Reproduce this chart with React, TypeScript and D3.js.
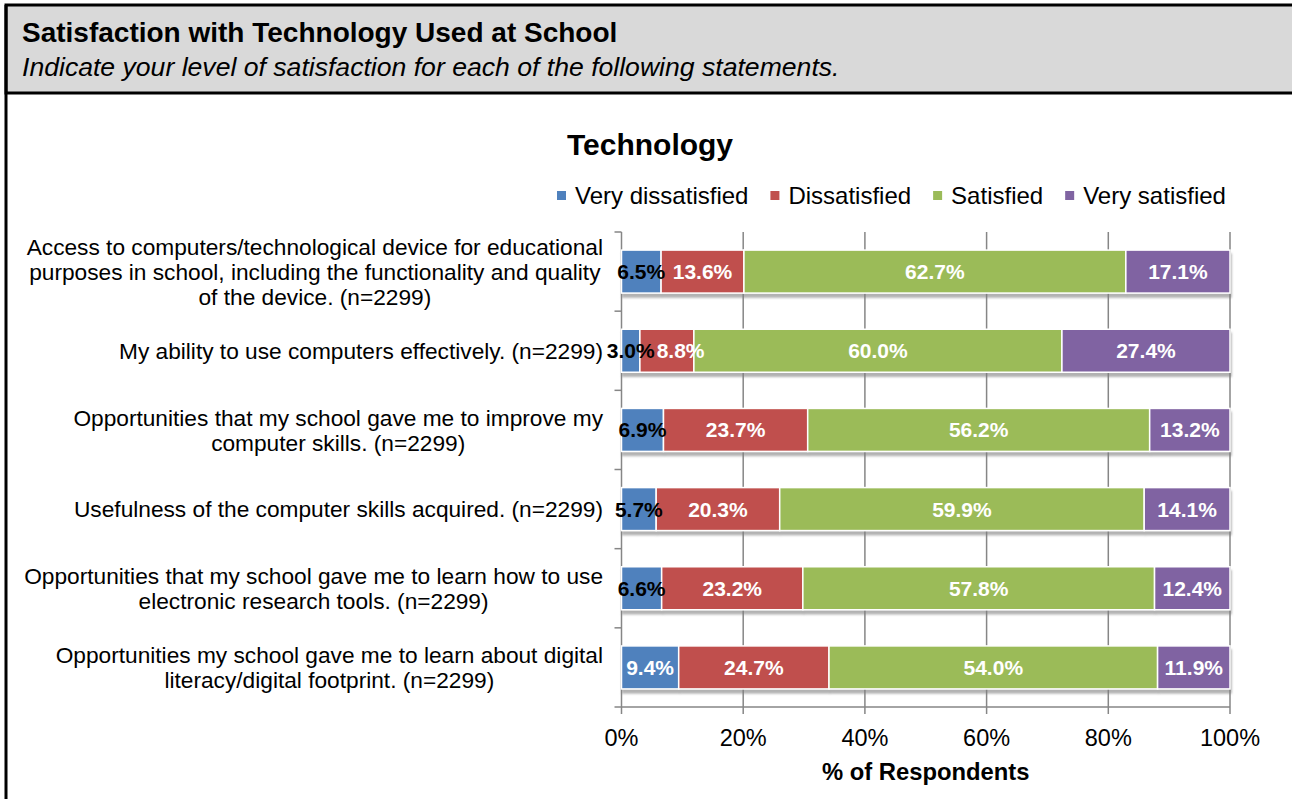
import React from "react";
import * as d3 from "d3";

const categories: string[][] = [
  ["Access to computers/technological device for educational", "purposes in school, including the functionality and quality", "of the device. (n=2299)"],
  ["My ability to use computers effectively. (n=2299)"],
  ["Opportunities that my school gave me to improve my", "computer skills. (n=2299)"],
  ["Usefulness of the computer skills acquired. (n=2299)"],
  ["Opportunities that my school gave me to learn how to use", "electronic research tools. (n=2299)"],
  ["Opportunities my school gave me to learn about digital", "literacy/digital footprint. (n=2299)"],
];
const seriesNames = ["Very dissatisfied", "Dissatisfied", "Satisfied", "Very satisfied"];
const veryDissatisfied = [6.5, 3.0, 6.9, 5.7, 6.6, 9.4];
const dissatisfied = [13.6, 8.8, 23.7, 20.3, 23.2, 24.7];
const satisfied = [62.7, 60.0, 56.2, 59.9, 57.8, 54.0];
const verySatisfied = [17.1, 27.4, 13.2, 14.1, 12.4, 11.9];
const xTicks = [0, 0.2, 0.4, 0.6, 0.8, 1.0];
const colors = ["#4f81bd", "#c0504d", "#9bbb59", "#8064a2"];

const FONT = "'Liberation Sans', Arial, Helvetica, sans-serif";

let ctx: CanvasRenderingContext2D | null = null;
function measure(text: string, font: string): number {
  if (!ctx) ctx = document.createElement("canvas").getContext("2d");
  if (!ctx) return text.length * 10;
  ctx.font = font;
  return ctx.measureText(text).width;
}

export default function App() {
  const W = 1292, H = 799;
  const left = 621.5, right = 1230, top = 232, bottom = 707;
  const rows = categories.map((c, i) => ({
    key: i,
    vd: veryDissatisfied[i], d: dissatisfied[i], s: satisfied[i], vs: verySatisfied[i],
  }));
  const keys = ["vd", "d", "s", "vs"];
  const stack = d3.stack<any>().keys(keys).offset(d3.stackOffsetExpand)(rows);
  const x = d3.scaleLinear().domain([0, 1]).range([left, right]);
  const y = d3.scaleBand<number>().domain(rows.map((r) => r.key)).range([top, bottom]).paddingInner(0.457).paddingOuter(0.2285);
  const step = y.step();
  const catFontSize = 22.7;
  const catFont = `${catFontSize}px ${FONT}`;
  const valFontSize = 21;
  const valFont = `bold ${valFontSize}px ${FONT}`;
  const legendFont = `24px ${FONT}`;

  const labels: { x: number; y: number; text: string; fill: string }[] = [];
  rows.forEach((r, i) => {
    let prevRight = -Infinity;
    stack.forEach((s, k) => {
      const seg = s[i];
      const raw = (r as any)[keys[k]] as number;
      const text = raw.toFixed(1) + "%";
      const w = measure(text, valFont);
      let cx = (x(seg[0]) + x(seg[1])) / 2;
      if (cx - w / 2 < prevRight + 2) cx = prevRight + 2 + w / 2;
      prevRight = cx + w / 2;
      const fill = k === 0 && raw < 9 ? "#000" : "#fff";
      labels.push({ x: cx, y: (y(r.key) as number) + y.bandwidth() / 2, text, fill });
    });
  });

  const legendItems: { name: string; sq: number; tx: number }[] = [];
  let lx = 557;
  seriesNames.forEach((n) => {
    legendItems.push({ name: n, sq: lx, tx: lx + 18 });
    lx = lx + 18 + measure(n, legendFont) + 22;
  });

  return (
    <svg width={W} height={H} style={{ position: "absolute", left: 0, top: 0, background: "#fff" }} fontFamily={FONT}>
      <defs>
        <filter id="shadow" x="-5%" y="-20%" width="110%" height="160%">
          <feDropShadow dx="1" dy="4" stdDeviation="1.2" floodColor="#7f7f7f" floodOpacity="0.6" />
        </filter>
      </defs>
      {/* header */}
      <rect x={6} y={5} width={1300} height={88} fill="#d9d9d9" stroke="#000" strokeWidth={3} />
      <line x1={6} x2={6} y1={5} y2={H} stroke="#000" strokeWidth={3} />
      <text x={22} y={42} fontSize={28} fontWeight="bold" fill="#000">Satisfaction with Technology Used at School</text>
      <text x={22} y={76} fontSize={26.6} fontStyle="italic" fill="#000">Indicate your level of satisfaction for each of the following statements.</text>

      {/* chart title */}
      <text x={650} y={155} textAnchor="middle" fontSize={30} fontWeight="bold" fill="#000">Technology</text>

      {/* legend */}
      {legendItems.map((l, i) => (
        <g key={l.name}>
          <rect x={l.sq} y={191} width={9} height={9} fill={colors[i]} />
          <text x={l.tx} y={204} fontSize={24} fill="#000">{l.name}</text>
        </g>
      ))}

      {/* gridlines */}
      {xTicks.slice(1).map((t) => (
        <line key={t} x1={x(t)} x2={x(t)} y1={top} y2={bottom} stroke="#868686" strokeWidth={1.5} />
      ))}
      {/* x axis */}
      <line x1={left} x2={right} y1={bottom} y2={bottom} stroke="#868686" strokeWidth={1.5} />
      {xTicks.map((t) => (
        <g key={"xt" + t}>
          <line x1={x(t)} x2={x(t)} y1={bottom} y2={bottom + 7} stroke="#868686" strokeWidth={1.5} />
          <text x={x(t)} y={746} textAnchor="middle" fontSize={23.5} fill="#000">{Math.round(t * 100) + "%"}</text>
        </g>
      ))}
      <text x={(left + right) / 2} y={780} textAnchor="middle" fontSize={23.8} fontWeight="bold" fill="#000">% of Respondents</text>

      {/* y axis */}
      <line x1={left} x2={left} y1={top} y2={bottom} stroke="#868686" strokeWidth={1.5} />
      {d3.range(rows.length + 1).map((i) => (
        <line key={"yt" + i} x1={left - 7} x2={left} y1={top + i * step} y2={top + i * step} stroke="#868686" strokeWidth={1.5} />
      ))}

      {/* bars */}
      {rows.map((r, i) => (
        <g key={"row" + i} filter="url(#shadow)">
          {stack.map((s, k) => (
            <rect key={k} x={x(s[i][0])} y={y(r.key)} width={x(s[i][1]) - x(s[i][0])} height={y.bandwidth()} fill={colors[k]} stroke="#fff" strokeWidth={1.5} />
          ))}
        </g>
      ))}

      {/* value labels */}
      {labels.map((l, i) => (
        <text key={"vl" + i} x={l.x} y={l.y} dy="0.36em" textAnchor="middle" fontSize={valFontSize} fontWeight="bold" fill={l.fill}>{l.text}</text>
      ))}

      {/* category labels */}
      {categories.map((lines, i) => {
        const maxW = d3.max(lines, (t) => measure(t, catFont)) as number;
        const cx = 603 - maxW / 2;
        const cy = (y(i) as number) + y.bandwidth() / 2;
        const lh = 25;
        return (
          <text key={"cat" + i} textAnchor="middle" fontSize={catFontSize} fill="#000">
            {lines.map((t, j) => (
              <tspan key={j} x={cx} y={cy + (j - (lines.length - 1) / 2) * lh} dy="0.36em">{t}</tspan>
            ))}
          </text>
        );
      })}
    </svg>
  );
}
